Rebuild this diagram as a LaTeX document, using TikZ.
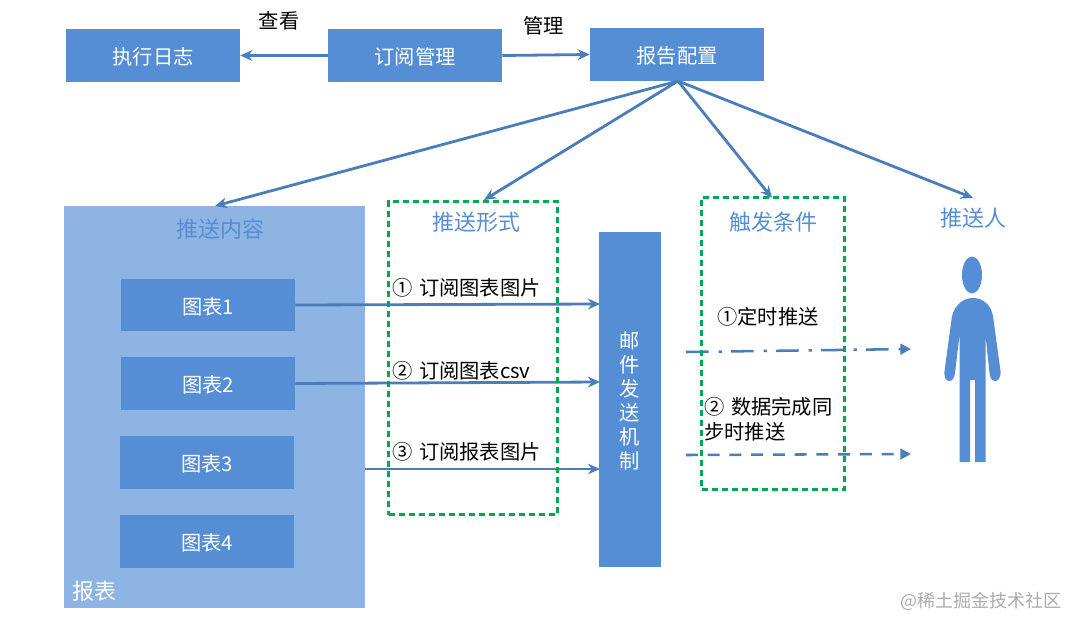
\documentclass[tikz,border=0pt]{standalone}
\usepackage{fontspec}
\setmainfont{Noto Sans CJK SC}
\usepackage{tikz}
\usetikzlibrary{arrows.meta}
\definecolor{boxblue}{HTML}{558ED5}
\definecolor{paleblue}{HTML}{8EB4E3}
\definecolor{lineblue}{HTML}{4A7EBB}
\definecolor{framegreen}{HTML}{00A651}
\newcommand{\boxline}[1]{\raisebox{-6.9pt}[0pt][0pt]{#1}}
\tikzset{
	bluebox/.style={fill=boxblue, text=white, minimum width=130.5pt, minimum height=39.5pt, inner sep=0pt, font=\fontsize{15.2}{18}\selectfont},
	linkline/.style={line width=2.1pt, color=lineblue, -{Stealth[length=9pt,width=8pt]}},
	triggerline/.style={line width=1.9pt, color=lineblue, -{Triangle[length=8pt,width=8pt]}},
	greenframe/.style={draw=framegreen, line width=2.25pt, dash pattern=on 5pt off 2.5pt},
	heading/.style={text=boxblue, inner sep=0pt, font=\fontsize{16.5}{20}\selectfont},
	blacklabel/.style={text=black, inner sep=0pt, font=\fontsize{15.2}{18.5}\selectfont},
}
\begin{document}
\begin{tikzpicture}[x=0.75pt, y=-0.75pt]
		%%%%% START %%%%%
		\useasboundingbox (0, 0) rectangle (1068, 618);

		\node[fill=paleblue, minimum width=225.75pt, minimum height=301.5pt, inner sep=0pt] (report) at (214.5, 407) {};
		\node[heading] (contenttitle) at (220.5, 229.5) {推送内容};
		\node[text=white, inner sep=0pt, font=\fontsize{16.5}{20}\selectfont] (reporttitle) at (94, 591.5) {报表};

		\node[bluebox] (log) at (153, 55.5) {\boxline{执行日志}};
		\node[bluebox] (sub) at (415, 55.5) {\boxline{订阅管理}};
		\node[bluebox] (config) at (677, 54.5) {\boxline{报告配置}};

		\node[bluebox] (chart1) at (208, 305) {\boxline{图表1}};
		\node[bluebox] (chart2) at (208, 383.5) {\boxline{图表2}};
		\node[bluebox] (chart3) at (207, 462.5) {\boxline{图表3}};
		\node[bluebox] (chart4) at (207, 541.5) {\boxline{图表4}};

		\node[fill=boxblue, text=white, minimum width=46.5pt, minimum height=251.25pt, inner sep=0pt, align=center, font=\fontsize{15.2}{18}\selectfont] (mail) at (630, 399.5) {\boxline{邮}\\\boxline{件}\\\boxline{发}\\\boxline{送}\\\boxline{机}\\\boxline{制}};

		\node[blacklabel] (viewlabel) at (279, 21) {查看};
		\node[blacklabel] (managelabel) at (543.5, 26) {管理};
		\draw[linkline] (sub.west) -- (log.east);
		\draw[linkline] (sub.east) -- (config.west);

		\coordinate (fan) at (678, 81);
		\coordinate (contentend) at (215, 206);
		\coordinate (formend) at (484, 200);
		\coordinate (triggerend) at (772, 198);
		\coordinate (personend) at (973, 198);
		\draw[linkline] (fan) -- (contentend);
		\draw[linkline] (fan) -- (formend);
		\draw[linkline] (fan) -- (triggerend);
		\draw[linkline] (fan) -- (personend);

		\coordinate (mail1) at (600, 304);
		\coordinate (mail2) at (600, 382);
		\coordinate (mail3) at (600, 469);
		\coordinate (report3) at (365, 469);
		\draw[linkline] (chart1.east) -- (mail1);
		\draw[linkline] (chart2.east) -- (mail2);
		\draw[linkline] (report3) -- (mail3);

		\coordinate (timedstart) at (686, 352);
		\coordinate (timedend) at (911, 349);
		\coordinate (syncstart) at (686, 455);
		\coordinate (syncend) at (911, 454);
		\draw[triggerline, dash pattern=on 17pt off 7.5pt on 2.5pt off 6.75pt] (timedstart) -- (timedend);
		\draw[triggerline, dash pattern=on 9pt off 7.3pt] (syncstart) -- (syncend);

		\node[greenframe, minimum width=126.5pt, minimum height=235pt, inner sep=0pt] (formframe) at (473, 358) {};
		\node[greenframe, minimum width=107pt, minimum height=219.25pt, inner sep=0pt] (triggerframe) at (773, 343.5) {};

		\node[heading] (formtitle) at (476, 222.5) {推送形式};
		\node[heading] (triggertitle) at (773, 222.5) {触发条件};
		\node[heading] (persontitle) at (973, 218.5) {推送人};

		\node[blacklabel, anchor=west] (form1) at (392, 288) {①\ \hspace{1.5pt}订阅图表图片};
		\node[blacklabel, anchor=west] (form2) at (392, 371) {②\ \hspace{1.5pt}订阅图表csv};
		\node[blacklabel, anchor=west] (form3) at (392, 452) {③\ \hspace{1.5pt}订阅报表图片};
		\node[blacklabel, anchor=west] (trigger1) at (717, 316.5) {①定时推送};
		\node[blacklabel, anchor=north west, align=left] (trigger2) at (704, 397) {②\ \hspace{1.5pt}数据完成同\\步时推送};

		\fill[boxblue] (972, 275) ellipse (10 and 18.5);
		\fill[boxblue] (952, 316) .. controls (955, 305) and (963, 298) .. (973, 298)
			.. controls (983, 298) and (991, 305) .. (993, 316)
			-- (1000.5, 371) .. controls (1001, 378) and (998, 381) .. (995, 381)
			.. controls (992, 381) and (990, 378) .. (989.5, 373)
			-- (985.5, 335) -- (985.5, 462) -- (975, 462) -- (975, 380) -- (970, 380)
			-- (970, 462) -- (959.5, 462) -- (959.5, 335) -- (955, 373)
			.. controls (954.5, 378) and (952, 381) .. (949.5, 381)
			.. controls (946, 381) and (944, 378) .. (944.5, 371) -- cycle;

		\node[text=black!33, anchor=east, inner sep=0pt, font=\fontsize{13.5}{16}\selectfont] (mark) at (1062, 601.5) {@稀土掘金技术社区};
		%%%%% END %%%%%
	\end{tikzpicture}
\end{document}
